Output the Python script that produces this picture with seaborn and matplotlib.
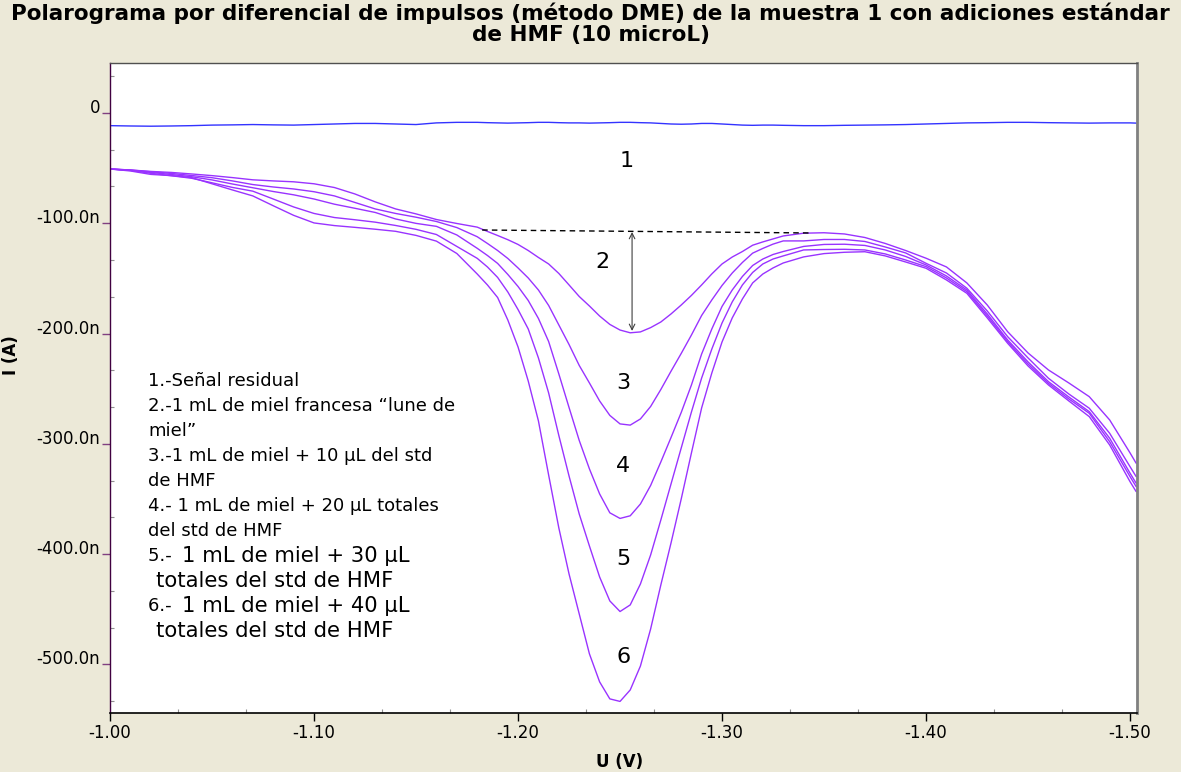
import numpy as np
import pandas as pd
import matplotlib.pyplot as plt
import seaborn as sns
from matplotlib.ticker import MultipleLocator, FixedLocator

# potential axis (V), shared by all the curves
u = [-1.00, -1.01, -1.02, -1.03, -1.04, -1.05, -1.06, -1.07, -1.08, -1.09,
     -1.10, -1.11, -1.12, -1.13, -1.14, -1.15, -1.16, -1.17, -1.18,
     -1.185, -1.19, -1.195, -1.20, -1.205, -1.21, -1.215, -1.22, -1.225, -1.23,
     -1.235, -1.24, -1.245, -1.25, -1.255, -1.26, -1.265, -1.27, -1.275, -1.28,
     -1.285, -1.29, -1.295, -1.30, -1.305, -1.31, -1.315, -1.32, -1.325, -1.33,
     -1.34, -1.35, -1.36, -1.37, -1.38, -1.39, -1.40, -1.41, -1.42, -1.43,
     -1.44, -1.45, -1.46, -1.47, -1.48, -1.49, -1.50, -1.503]

# currents in nA
c1 = [-11.5, -11.8, -12.0, -11.8, -11.5, -11.0, -10.8, -10.5, -10.8, -11.0,
      -10.5, -10.0, -9.5, -9.5, -10.0, -10.5, -9.0, -8.5, -8.5,
      -8.8, -9.0, -9.2, -9.0, -8.8, -8.5, -8.5, -8.8, -9.0, -9.0,
      -9.2, -9.0, -8.8, -8.5, -8.5, -8.8, -9.0, -9.5, -10.0, -10.2,
      -10.0, -9.5, -9.5, -10.0, -10.5, -11.0, -11.2, -11.0, -11.0, -11.2,
      -11.5, -11.5, -11.2, -11.0, -10.8, -10.5, -10.0, -9.5, -9.0, -8.8,
      -8.5, -8.5, -8.8, -9.0, -9.2, -9.0, -9.0, -9.2]
c2 = [-50.8, -51.7, -53.0, -53.9, -55.3, -56.8, -58.6, -60.6, -61.6, -62.4,
      -64.2, -67.6, -73.4, -80.6, -87.0, -91.5, -96.6, -100.2, -103.5,
      -107.4, -111.1, -114.9, -119.2, -124.7, -131.0, -136.9, -145.5, -155.9, -166.4,
      -175.0, -184.1, -191.7, -196.8, -199.3, -198.5, -194.6, -189.5, -182.2, -174.1,
      -165.4, -155.9, -145.9, -136.9, -130.6, -125.6, -119.9, -116.9, -114.2, -111.5,
      -109.0, -108.6, -109.7, -112.9, -118.3, -124.7, -131.7, -139.6, -154.1, -174.1,
      -198.3, -217.6, -233.0, -244.8, -257.2, -278.3, -308.2, -317.6]
c3 = [-50.8, -51.7, -53.3, -54.8, -56.7, -58.7, -61.6, -64.9, -67.1, -68.9,
      -71.4, -75.2, -81.1, -87.0, -91.1, -94.5, -98.4, -103.9, -112.2,
      -118.3, -124.7, -131.9, -140.5, -149.6, -160.5, -174.5, -192.2, -209.9, -228.9,
      -244.8, -261.1, -274.2, -281.9, -283.0, -277.4, -266.1, -250.7, -234.1, -218.0,
      -201.3, -183.6, -169.5, -156.4, -145.1, -135.5, -127.1, -122.8, -118.9, -116.0,
      -116.0, -114.7, -114.7, -116.5, -121.5, -126.9, -136.3, -145.1, -158.9, -179.5,
      -202.8, -222.1, -240.5, -254.8, -267.7, -290.4, -320.7, -329.7]
c4 = [-50.8, -51.9, -53.9, -55.8, -57.8, -60.7, -64.4, -67.8, -71.2, -74.2,
      -78.0, -82.7, -86.4, -90.2, -96.1, -100.1, -102.8, -110.6, -122.7,
      -129.2, -136.4, -146.4, -157.3, -170.0, -186.3, -207.2, -236.6, -267.0, -296.9,
      -322.7, -345.4, -362.5, -367.6, -365.2, -354.5, -337.7, -316.4, -294.2, -271.5,
      -246.6, -218.5, -195.8, -175.4, -160.5, -148.2, -138.3, -132.4, -128.3, -125.6,
      -121.0, -119.2, -119.0, -120.1, -124.2, -130.1, -137.8, -147.8, -160.5, -182.2,
      -205.8, -225.7, -243.6, -257.5, -270.8, -294.9, -326.6, -335.7]
c5 = [-50.8, -52.1, -54.7, -56.9, -59.2, -63.3, -67.5, -70.9, -78.0, -85.2,
      -91.1, -94.8, -96.8, -99.0, -102.0, -105.5, -110.2, -121.0, -131.8,
      -139.6, -149.1, -162.3, -178.2, -195.8, -222.1, -253.8, -292.4, -329.1, -363.6,
      -392.6, -420.7, -442.4, -452.0, -446.0, -427.0, -400.7, -369.0, -336.3, -303.7,
      -271.1, -240.3, -214.0, -190.4, -171.3, -155.9, -144.6, -136.9, -132.4, -129.6,
      -124.2, -123.8, -123.6, -124.2, -127.8, -133.3, -139.3, -149.6, -162.0, -184.0,
      -207.3, -227.6, -245.1, -259.3, -272.3, -298.0, -329.7, -338.8]
c6 = [-50.8, -52.6, -55.7, -56.8, -58.6, -64.2, -69.8, -75.2, -84.1, -92.8,
      -99.7, -102.1, -103.7, -105.4, -107.3, -111.0, -116.2, -127.4, -146.0,
      -155.9, -167.3, -187.7, -212.1, -243.0, -279.2, -328.2, -376.2, -417.9, -454.2,
      -490.4, -515.8, -531.2, -533.5, -523.1, -501.4, -467.8, -427.9, -389.8, -349.9,
      -308.2, -267.4, -235.7, -207.6, -185.8, -168.6, -154.1, -146.0, -140.5, -136.0,
      -130.5, -127.5, -126.3, -125.8, -129.6, -135.1, -140.8, -151.4, -163.5, -185.8,
      -208.8, -229.4, -246.6, -261.1, -275.3, -301.0, -334.3, -343.3]

curve_names = ["1", "2", "3", "4", "5", "6"]
y_ticks = [0, -100, -200, -300, -400, -500]
y_ticklabels = ["0", "-100.0n", "-200.0n", "-300.0n", "-400.0n", "-500.0n"]
x_ticks = [-1.00, -1.10, -1.20, -1.30, -1.40, -1.50]
x_ticklabels = ["-1.00", "-1.10", "-1.20", "-1.30", "-1.40", "-1.50"]

legend_lines = ["1.-Señal residual",
                "2.-1 mL de miel francesa \u201clune de",
                "miel\u201d",
                "3.-1 mL de miel + 10 \u00b5L del std",
                "de HMF",
                "4.- 1 mL de miel + 20 \u00b5L totales",
                "del std de HMF"]
legend_big = [("5.- ", "1 mL de miel + 30 \u00b5L"), ("", "totales del std de HMF"),
              ("6.- ", "1 mL de miel + 40 \u00b5L"), ("", "totales del std de HMF")]

frames = []
for name, vals in zip(curve_names, [c1, c2, c3, c4, c5, c6]):
    frames.append(pd.DataFrame({"U": u, "I": vals, "curva": name}))
df = pd.concat(frames, ignore_index=True)

sns.set_style("white")
plt.rcParams['font.family'] = ['DejaVu Sans']
plt.rcParams['text.color'] = 'black'

W, H = 1181, 772
fig = plt.figure(figsize=(W / 100, H / 100), dpi=100, facecolor="#ECE9D8")
ax = fig.add_axes([110 / W, 1 - 713 / H, (1137 - 110) / W, (713 - 63) / H])
ax.set_facecolor("white")

palette = {"1": "#3333FF", "2": "#9933FF", "3": "#9933FF",
           "4": "#9933FF", "5": "#9933FF", "6": "#9933FF"}
sns.lineplot(data=df, x="U", y="I", hue="curva", palette=palette, estimator=None,
             sort=False, linewidth=1.0, legend=False, ax=ax)

ax.set_xlim(-1.00, -1.5034)
ax.set_ylim(-544, 45.3)

# baseline of peak 2 and its height
ax.plot([-1.1824, -1.3431], [-106.1, -108.8], color="black", lw=1.0, ls=(0, (4, 3)))
ax.annotate("", xy=(-1.2559, -197.6), xytext=(-1.2559, -107.9),
            arrowprops=dict(arrowstyle="<->", color="#404040", lw=0.8,
                            shrinkA=0, shrinkB=0))

# curve numbers
num_pos = [(-1.2534, -43.5), (-1.2412, -135), (-1.2515, -245),
           (-1.2515, -320), (-1.2515, -404), (-1.2515, -493)]
for name, (xx, yy) in zip(curve_names, num_pos):
    ax.text(xx, yy, name, fontsize=16, ha="center", va="center", color="black")

ax.xaxis.set_major_locator(FixedLocator(x_ticks))
ax.set_xticklabels(x_ticklabels)
ax.yaxis.set_major_locator(FixedLocator(y_ticks))
ax.set_yticklabels(y_ticklabels)
ax.xaxis.set_minor_locator(MultipleLocator(0.1 / 3))
ax.yaxis.set_minor_locator(MultipleLocator(100 / 3))
ax.tick_params(axis="both", which="major", direction="out", length=6, width=1,
               labelsize=12, labelcolor="black")
ax.tick_params(axis="x", which="major", color="black", pad=2)
ax.tick_params(axis="y", which="major", color="#804080", pad=1)
ax.tick_params(axis="both", which="minor", direction="in", length=3, width=0.8,
               color="#909090")
ax.tick_params(left=True, bottom=True, which="both")
for t in ax.get_yticklabels():
    t.set_va("baseline")

for side, col, lw in [("left", "#400040", 1.0), ("bottom", "black", 1.2),
                      ("top", "#505050", 1.0), ("right", "#808080", 2.0)]:
    ax.spines[side].set_visible(True)
    ax.spines[side].set_color(col)
    ax.spines[side].set_linewidth(lw)

ax.set_xlabel("")
ax.set_ylabel("")
fig.text(620 / W, 1 - 762 / H, "U (V)", fontsize=12, fontweight="bold",
         ha="center", va="center", color="black")
fig.text(11 / W, 1 - 355 / H, "I (A)", fontsize=12, fontweight="bold",
         ha="center", va="center", rotation=90, color="black")
fig.text(0.5, 1 - 13 / H,
         "Polarograma por diferencial de impulsos (método DME) de la muestra 1 con adiciones estándar",
         fontsize=15.5, fontweight="bold", ha="center", va="center", color="black")
fig.text(0.5, 1 - 35 / H, "de HMF (10 microL)", fontsize=15.5, fontweight="bold",
         ha="center", va="center", color="black")

# text block describing the curves
y0 = 381
for i, line in enumerate(legend_lines):
    fig.text(148 / W, 1 - (y0 + 25 * i) / H, line, fontsize=13, ha="left",
             va="center", color="black")
y1 = 556
for i, (small, big) in enumerate(legend_big):
    yy = 1 - (y1 + 25 * i) / H
    if small:
        fig.text(148 / W, yy, small, fontsize=13, ha="left", va="center", color="black")
        fig.text(182 / W, yy, big, fontsize=15.2, ha="left", va="center", color="black")
    else:
        fig.text(156 / W, yy, big, fontsize=15.2, ha="left", va="center", color="black")

fig.savefig("out.png", dpi=100, facecolor=fig.get_facecolor())
